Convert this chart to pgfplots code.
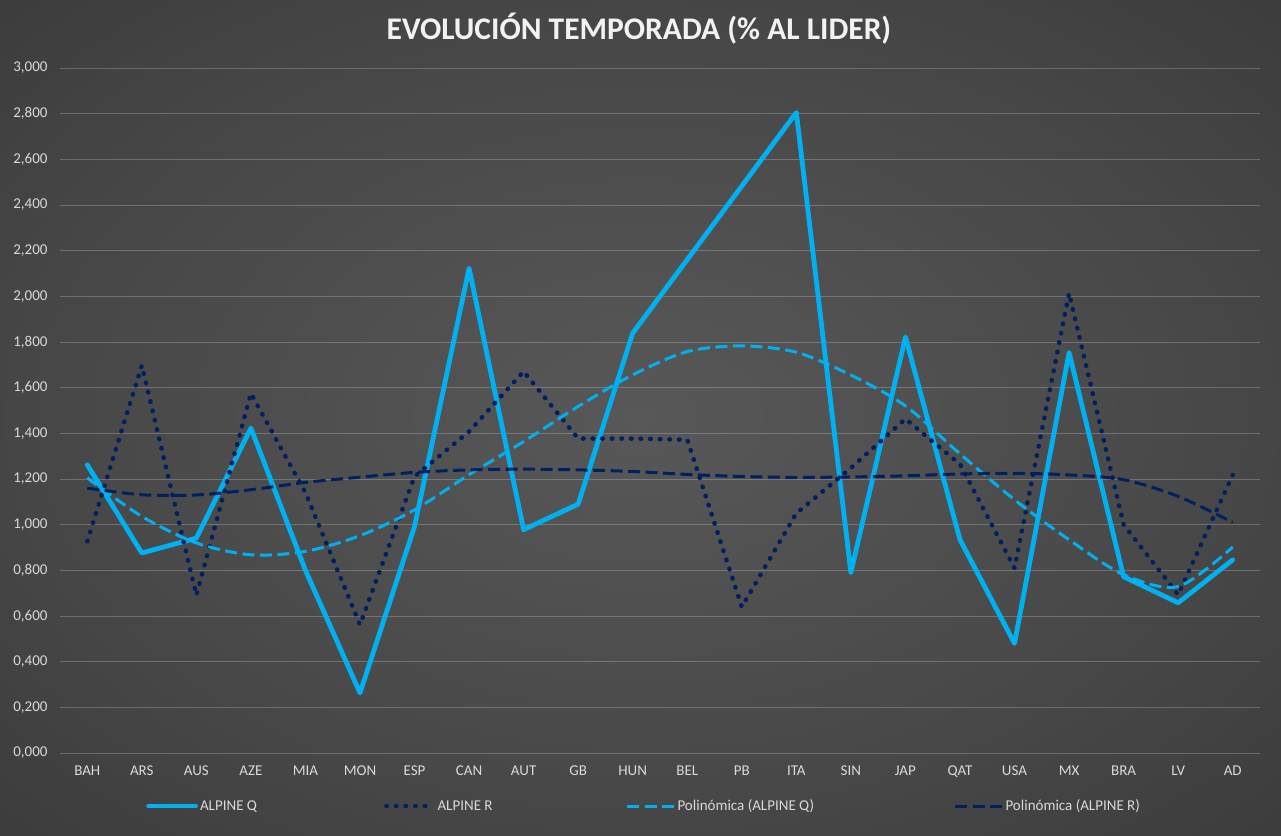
\documentclass[border=0pt]{standalone}
\usepackage{pgfplots}
\pgfplotsset{compat=1.18}
\usepackage{fontspec}
\setmainfont{Carlito}
\definecolor{qblue}{RGB}{0,176,240}
\definecolor{rnavy}{RGB}{0,32,96}
\definecolor{txtgray}{RGB}{217,217,217}
\definecolor{bgA}{RGB}{88,88,88}
\definecolor{bgB}{RGB}{72,72,72}
\definecolor{bgC}{RGB}{52,52,52}
\definecolor{bgD}{RGB}{36,36,36}
\pgfdeclareradialshading{bgshade}{\pgfpoint{0bp}{0bp}}{color(0bp)=(bgA); color(22bp)=(bgB); color(45bp)=(bgC); color(71bp)=(bgD)}
\pgfplotstableread{
x q r tq tr
0 1.262 0.927 1.205 1.160
1 0.876 1.697 1.036 1.131
2 0.941 0.691 0.920 1.130
3 1.423 1.575 0.868 1.153
4 0.800 1.140 0.883 1.185
5 0.263 0.562 0.952 1.208
6 0.992 1.211 1.065 1.229
7 2.123 1.408 1.219 1.240
8 0.978 1.671 1.364 1.243
9 1.090 1.377 1.518 1.240
10 1.839 1.377 1.656 1.233
11 2.161 1.372 1.758 1.220
12 2.483 0.640 1.783 1.211
13 2.805 1.050 1.755 1.207
14 0.790 1.248 1.655 1.209
15 1.822 1.463 1.520 1.214
16 0.934 1.265 1.310 1.222
17 0.480 0.810 1.109 1.225
18 1.754 2.014 0.934 1.218
19 0.772 1.000 0.781 1.197
20 0.658 0.693 0.729 1.124
21 0.846 1.218 0.902 1.010
}\datatable
\begin{document}
\begin{tikzpicture}
\shade[shading=bgshade] (0pt,0pt) rectangle (1281pt,835pt);
\begin{axis}[
  at={(60pt,82pt)}, anchor=south west,
  scale only axis, width=1200pt, height=685pt,
  xmin=-0.5, xmax=21.5, ymin=0, ymax=3,
  xtick={0,...,21},
  xticklabels={BAH,ARS,AUS,AZE,MIA,MON,ESP,CAN,AUT,GB,HUN,BEL,PB,ITA,SIN,JAP,QAT,USA,MX,BRA,LV,AD},
  ytick={0,0.2,0.4,0.6,0.8,1.0,1.2,1.4,1.6,1.8,2.0,2.2,2.4,2.6,2.8,3.0},
  ymajorgrids,
  major grid style={white, opacity=0.22, line width=0.8pt},
  axis line style={draw=none},
  major tick length=0pt,
  tick label style={font=\fontsize{15}{18}\selectfont, text=txtgray},
  xticklabel style={anchor=north, yshift=-9pt},
  yticklabel style={anchor=east, xshift=-9pt},
  /pgf/number format/.cd, fixed, fixed zerofill, precision=3, use comma, 1000 sep={}, assume math mode=true,
  /pgfplots/.cd,
  title={EVOLUCIÓN TEMPORADA (\% AL LIDER)},
  title style={font=\bfseries\fontsize{31.5}{36}\selectfont, text=white!95!black, at={(0.4825,1)}, anchor=center, yshift=33pt},
  legend columns=4,
  legend image code/.code={\draw[#1] (0pt,0pt) -- (47pt,0pt);},
  legend style={at={(axis description cs:0.0717,-0.0774)}, anchor=west, draw=none, fill=none, inner sep=0pt, column sep=0pt,
    nodes={inner sep=2pt, text=txtgray, font=\fontsize{15}{18}\selectfont}},
]
\addplot[qblue, line width=4.8pt, line join=round, line cap=round] table[x=x,y=q]{\datatable};
\addlegendentry{\makebox[182pt][l]{ALPINE Q}}
\addplot[rnavy, line width=4.5pt, line cap=round, dash pattern=on 0.6pt off 9pt] table[x=x,y=r]{\datatable};
\addlegendentry{\makebox[186pt][l]{ALPINE R}}
\addplot[qblue, line width=3pt, smooth, dash pattern=on 12pt off 5.5pt] table[x=x,y=tq]{\datatable};
\addlegendentry{\makebox[274pt][l]{Polinómica (ALPINE Q)}}
\addplot[rnavy, line width=3pt, smooth, dash pattern=on 12pt off 5.5pt] table[x=x,y=tr]{\datatable};
\addlegendentry{Polinómica (ALPINE R)}
\end{axis}
\end{tikzpicture}
\end{document}
